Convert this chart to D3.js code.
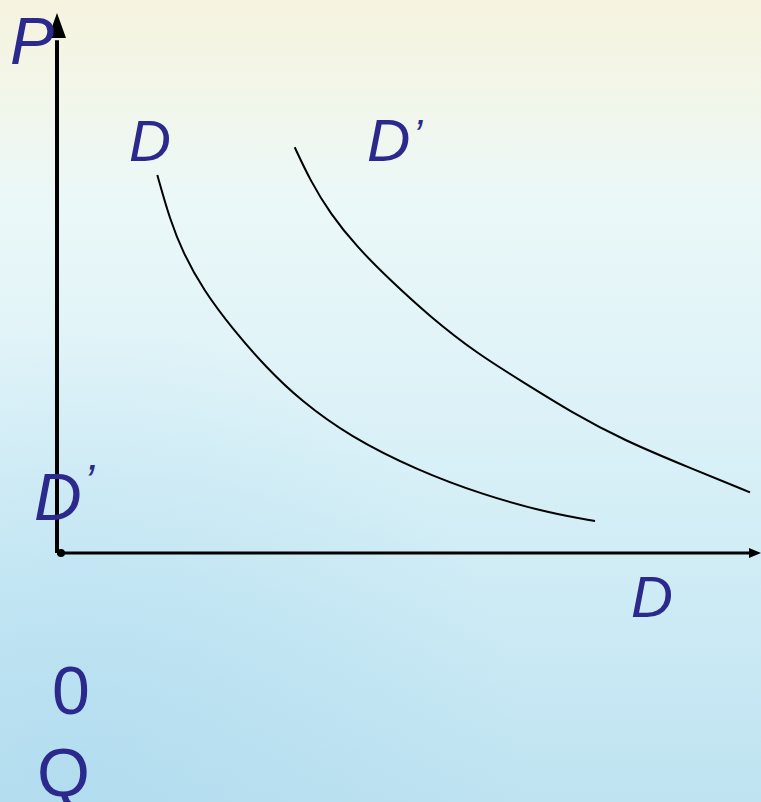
<!DOCTYPE html>
<html><head><meta charset="utf-8">
<script src="https://cdn.jsdelivr.net/npm/d3@7"></script>
<style>html,body{margin:0;padding:0;overflow:hidden;background:#fff}</style>
</head><body>
<script>
// Demand curve D (original) and D' (shifted), in Q/P units
const curveD_Q = [14.33, 16.14, 18.04, 20.9, 25.19, 29.96, 34.71, 41.86, 51.39, 60.9, 70.43, 76.86];
const curveD_P = [70.39, 62.01, 55.81, 48.98, 41.53, 34.45, 28.49, 21.66, 15.46, 10.8, 7.39, 5.96];
const curveD2_Q = [33.96, 36.14, 39.0, 42.81, 47.57, 53.29, 59.96, 66.61, 73.76, 80.9, 90.43, 99.0];
const curveD2_P = [75.55, 69.46, 63.26, 57.04, 50.84, 44.0, 37.19, 31.8, 26.01, 21.04, 15.83, 11.3];
const axisLabels = ["P", "Q", "0"];
const curveLabels = ["D", "D", "D", "D"];

const W = 761, H = 802;
const svg = d3.select("body").append("svg").attr("width", W).attr("height", H);
const defs = svg.append("defs");
const g1 = defs.append("linearGradient").attr("id","bg").attr("x1",0).attr("y1",0).attr("x2",0).attr("y2",1);
[[0,"#f6f3df"],[0.12,"#f2f6ea"],[0.25,"#ebf8f8"],[0.5,"#ddf2f8"],[0.75,"#cdebf5"],[1,"#bfe3f1"]]
  .forEach(([o,c])=>g1.append("stop").attr("offset",o).attr("stop-color",c));
svg.append("rect").attr("width",W).attr("height",H).attr("fill","url(#bg)");
const g2 = defs.append("radialGradient").attr("id","glow").attr("cx",0.1).attr("cy",1).attr("r",0.6);
g2.append("stop").attr("offset",0).attr("stop-color","#a9d8ee").attr("stop-opacity",0.6);
g2.append("stop").attr("offset",1).attr("stop-color","#a9d8ee").attr("stop-opacity",0);
svg.append("rect").attr("width",W).attr("height",H).attr("fill","url(#glow)");

const x = d3.scaleLinear().domain([0,100]).range([57,757]);
const y = d3.scaleLinear().domain([0,100]).range([553,16]);

// axes
svg.append("line").attr("x1",x(0)).attr("x2",x(0)).attr("y1",y(0)).attr("y2",y(95.5))
  .attr("stroke","#000").attr("stroke-width",4);
svg.append("path").attr("d",`M${x(0)},13 L${x(0)-9},38 L${x(0)+9},38 Z`).attr("fill","#000");
svg.append("line").attr("x1",x(0)).attr("x2",750).attr("y1",y(0)).attr("y2",y(0))
  .attr("stroke","#000").attr("stroke-width",3);
svg.append("path").attr("d",`M761,${y(0)} L749,${y(0)-5} L749,${y(0)+5} Z`).attr("fill","#000");
svg.append("circle").attr("cx",x(0)+4).attr("cy",y(0)).attr("r",4).attr("fill","#000");

const line = d3.line().x(d=>x(d[0])).y(d=>y(d[1])).curve(d3.curveBasis);
svg.append("path").attr("d", line(d3.zip(curveD_Q, curveD_P)))
  .attr("fill","none").attr("stroke","#000").attr("stroke-width",2);
svg.append("path").attr("d", line(d3.zip(curveD2_Q, curveD2_P)))
  .attr("fill","none").attr("stroke","#000").attr("stroke-width",2);

const col = "#2b2a8c";
function label(txt, px, py, size, italic, prime, primeDx, primeDy){
  svg.append("text").attr("x",px).attr("y",py)
    .attr("font-family","Liberation Sans, Arial, sans-serif")
    .attr("font-size",size).attr("fill",col)
    .attr("font-style", italic ? "italic" : "normal").text(txt);
  if (prime) {
    svg.append("text").attr("x",px+primeDx).attr("y",py-primeDy)
      .attr("font-family","Liberation Sans, Arial, sans-serif")
      .attr("font-size",size*0.7).attr("fill",col).attr("font-style","italic").text("’");
  }
}
label(axisLabels[0], 10, 64, 66, true);
label(curveLabels[0], 129, 161, 58, true);
label(curveLabels[1], 367, 161, 60, true, true, 46, 12);
label(curveLabels[2], 34, 520, 66, true, true, 50, 23);
label(curveLabels[3], 631, 617, 58, true);
label(axisLabels[2], 52, 714, 68, false);
label(axisLabels[1], 37, 796, 68, false);
</script>
</body></html>
